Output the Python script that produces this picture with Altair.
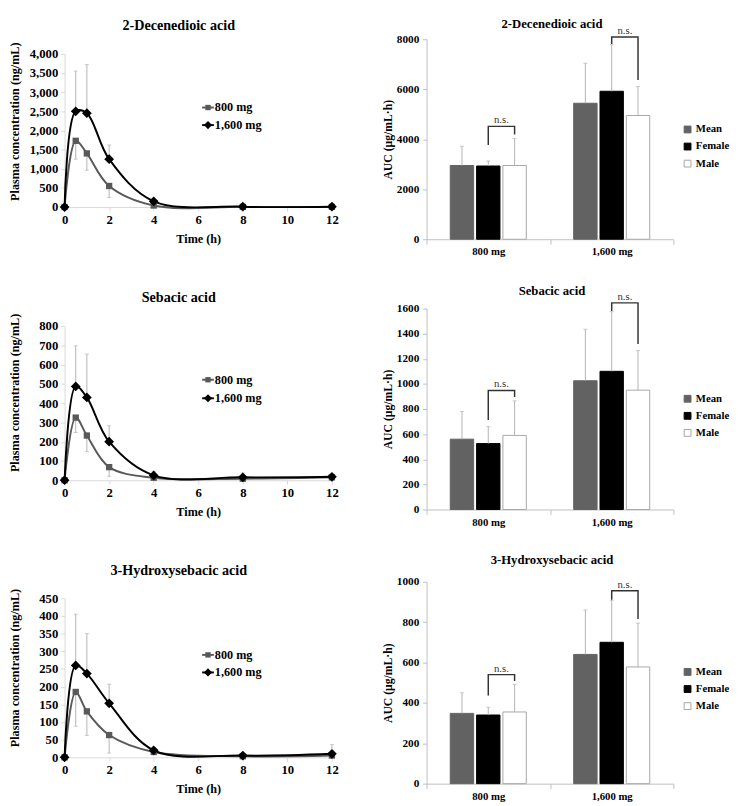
import altair as alt
import pandas as pd

FONT = "Liberation Serif"

# ---------------- plasma concentration time courses ----------------
times = [0, 0.5, 1, 2, 4, 8, 12]
doses = ["800 mg", "1,600 mg"]

dec_800 = [0, 1730, 1400, 550, 40, 5, 5]
dec_1600 = [0, 2500, 2450, 1250, 150, 10, 10]
dec_800_low = [None, 1250, 960, 250, None, None, None]
dec_1600_high = [None, 3550, 3720, 1620, None, None, None]

seb_800 = [0, 325, 232, 68, 13, 8, 15]
seb_1600 = [0, 487, 430, 200, 25, 15, 18]
seb_800_low = [None, 248, 148, 20, None, None, None]
seb_1600_high = [None, 697, 655, 283, 45, 38, 30]

hyd_800 = [0, 185, 130, 63, 15, 3, 5]
hyd_1600 = [0, 260, 237, 153, 20, 5, 10]
hyd_800_low = [None, 88, 62, 12, None, None, None]
hyd_1600_high = [None, 405, 350, 207, 28, None, 36]

# ---------------- AUC bar charts ----------------
groups = ["800 mg", "1,600 mg"]
series = ["Mean", "Female", "Male"]

dec_auc = {"Mean": [2950, 5440], "Female": [2930, 5920], "Male": [2950, 4950]}
dec_auc_top = {"Mean": [3720, 7040], "Female": [3130, 7780], "Male": [4030, 6110]}
dec_brackets = {"800 mg": [3774, 4515, 4190], "1,600 mg": [7805, 8090, 6374]}

seb_auc = {"Mean": [560, 1025], "Female": [525, 1100], "Male": [590, 950]}
seb_auc_top = {"Mean": [780, 1435], "Female": [660, 1575], "Male": [865, 1265]}
seb_brackets = {"800 mg": [713, 948, 896], "1,600 mg": [1580, 1645, 1318]}

hyd_auc = {"Mean": [348, 640], "Female": [340, 700], "Male": [355, 578]}
hyd_auc_top = {"Mean": [450, 860], "Female": [378, 908], "Male": [492, 795]}
hyd_brackets = {"800 mg": [436, 540, 508], "1,600 mg": [911, 955, 815]}

LIGHT = "#d9d9d9"
ERR = "#b3b3b3"
AX = "#bfbfbf"


def pk_panel(title, c800, c1600, lo800, hi1600, ymax, ystep, h, top, title_y, leg_y, toff):
    rows = []
    for i, t in enumerate(times):
        rows.append({"t": t, "dose": doses[0], "c": c800[i], "e": lo800[i]})
        rows.append({"t": t, "dose": doses[1], "c": c1600[i], "e": hi1600[i]})
    df = pd.DataFrame(rows)
    base = alt.Chart(df)
    xaxis = alt.Axis(values=list(range(0, 13, 2)), title="Time (h)", labelFlush=False, grid=False,
                     domainColor=LIGHT, tickColor=LIGHT, tickSize=4, labelPadding=3,
                     labelFontSize=13, titleFontSize=12.5, titlePadding=6)
    yaxis = alt.Axis(values=list(range(0, ymax + 1, ystep)), format=",d", grid=False,
                     title="Plasma concentration (ng/mL)", titleY=title_y,
                     domainColor=LIGHT, tickColor=LIGHT, tickSize=4, labelPadding=3,
                     labelFontSize=13, titleFontSize=12.5, titlePadding=8,
                     minExtent=36, maxExtent=36)
    xs = alt.Scale(domain=[0, 12], nice=False, zero=False)
    ys = alt.Scale(domain=[0, ymax], nice=False, range=[h + top, top])

    def X():
        return alt.X("t:Q", scale=xs, axis=xaxis)

    def Y(f):
        return alt.Y(f, type="quantitative", scale=ys, axis=yaxis)

    color = alt.Color("dose:N", scale=alt.Scale(domain=doses, range=["#595959", "#000000"]), legend=None)

    err = base.transform_filter("isValid(datum.e)").mark_rule(color=ERR, strokeWidth=1).encode(
        x=X(), y=Y("c"), y2="e:Q")
    caps = base.transform_filter("isValid(datum.e)").mark_tick(
        orient="horizontal", size=4, thickness=1, color=ERR).encode(x=X(), y=Y("e"))
    line = base.mark_line(interpolate="catmull-rom", strokeWidth=2).encode(x=X(), y=Y("c"), color=color)
    sq = base.transform_filter(alt.datum.dose == doses[0]).mark_point(
        shape="square", filled=True, opacity=1, size=42, color="#595959").encode(x=X(), y=Y("c"))
    dm = base.transform_filter(alt.datum.dose == doses[1]).mark_point(
        shape="diamond", filled=True, opacity=1, size=100, color="#000000").encode(x=X(), y=Y("c"))

    lg = alt.Chart(pd.DataFrame({"a": [0]}))
    y1, y2 = leg_y
    l1 = lg.mark_rule(color="#595959", strokeWidth=2).encode(x=alt.value(141), x2=alt.value(153), y=alt.value(y1))
    p1 = lg.mark_point(shape="square", filled=True, opacity=1, size=30, color="#595959").encode(
        x=alt.value(147), y=alt.value(y1))
    t1 = lg.mark_text(text=doses[0], align="left", baseline="middle", font=FONT, fontWeight="bold",
                      fontSize=12.5, color="black").encode(x=alt.value(154), y=alt.value(y1))
    l2 = lg.mark_rule(color="#000000", strokeWidth=2).encode(x=alt.value(141), x2=alt.value(153), y=alt.value(y2))
    p2 = lg.mark_point(shape="diamond", filled=True, opacity=1, size=70, color="#000000").encode(
        x=alt.value(147), y=alt.value(y2))
    t2 = lg.mark_text(text=doses[1], align="left", baseline="middle", font=FONT, fontWeight="bold",
                      fontSize=12.5, color="black").encode(x=alt.value(154), y=alt.value(y2))

    return alt.layer(line, err, caps, sq, dm, l1, p1, t1, l2, p2, t2).properties(
        width=274, height=h + top,
        title=alt.TitleParams(title, font=FONT, fontSize=14.5, fontWeight="bold", color="black",
                              offset=toff, dx=-20))


def auc_panel(title, vals, tops, brackets, ymax, ystep, h, tdy):
    rows = []
    for s in series:
        for gi, g in enumerate(groups):
            rows.append({"g": g, "s": s, "v": vals[s][gi], "e": tops[s][gi]})
    df = pd.DataFrame(rows)
    brows = []
    for g in groups:
        lb, top, rb = brackets[g]
        brows += [{"g": g, "s": "Female", "v": lb, "o": 0},
                  {"g": g, "s": "Female", "v": top, "o": 1},
                  {"g": g, "s": "Male", "v": top, "o": 2},
                  {"g": g, "s": "Male", "v": rb, "o": 3}]
    bdf = pd.DataFrame(brows)

    xaxis = alt.Axis(title=None, labelAngle=0, tickBand="extent", domainColor=AX, grid=False,
                     tickColor=AX, tickSize=5, labelPadding=2, labelFontSize=11)
    yaxis = alt.Axis(values=list(range(0, ymax + 1, ystep)), format="d", title="AUC (μg/mL·h)", grid=False,
                     domainColor=AX, tickColor=AX, tickSize=4, labelPadding=4,
                     labelFontSize=11.5, titleFontSize=12, titlePadding=2,
                     minExtent=31, maxExtent=31)
    xsc = alt.Scale(domain=groups, paddingInner=0, paddingOuter=0)
    xosc = alt.Scale(domain=series, paddingInner=0.111, paddingOuter=0.9)
    ysc = alt.Scale(domain=[0, ymax], nice=False)

    def X():
        return alt.X("g:N", sort=groups, scale=xsc, axis=xaxis)

    def XO():
        return alt.XOffset("s:N", sort=series, scale=xosc)

    def Y(f):
        return alt.Y(f, type="quantitative", scale=ysc, axis=yaxis)

    leg = alt.Legend(title=None, orient="none", legendX=262, legendY=87, symbolType="square",
                     symbolSize=49, labelFont=FONT, labelFontWeight="bold", labelFontSize=11,
                     labelColor="black", labelOffset=3, rowPadding=5.5, symbolStrokeWidth=1, padding=0)
    base = alt.Chart(df)
    bars = base.mark_bar(strokeWidth=1).encode(
        x=X(), xOffset=XO(), y=Y("v"),
        color=alt.Color("s:N", sort=series, scale=alt.Scale(domain=series, range=["#626262", "#000000", "#ffffff"]), legend=leg),
        stroke=alt.Stroke("s:N", sort=series, scale=alt.Scale(domain=series, range=["#626262", "#000000", "#a6a6a6"]), legend=leg),
    )
    err = base.mark_rule(color=ERR, strokeWidth=1).encode(x=X(), xOffset=XO(), y=Y("v"), y2="e:Q")
    caps = base.mark_tick(orient="horizontal", size=4, thickness=1, color=ERR).encode(
        x=X(), xOffset=XO(), y=Y("e"))
    br = alt.Chart(bdf).mark_line(color="#333333", strokeWidth=1.5).encode(
        x=X(), xOffset=XO(), y=Y("v"), detail="g:N", order="o:Q")
    ns = alt.Chart(bdf).transform_filter(alt.datum.o == 1).mark_text(
        text="n.s.", dx=13.5, dy=-1, baseline="bottom", font=FONT, fontSize=11, color="#333333").encode(
        x=X(), xOffset=XO(), y=Y("v"))
    return alt.layer(bars, err, caps, br, ns).properties(
        width=253, height=h,
        title=alt.TitleParams(title, font=FONT, fontSize=13, fontWeight="bold", color="black",
                              offset=0, dy=tdy, dx=2))


left = alt.vconcat(
    pk_panel("2-Decenedioic acid", dec_800, dec_1600, dec_800_low, dec_1600_high, 4000, 500, 157, 15, 84, (70, 88), 6),
    pk_panel("Sebacic acid", seb_800, seb_1600, seb_800_low, seb_1600_high, 800, 100, 158, 15, 83, (70, 89), 6),
    pk_panel("3-Hydroxysebacic acid", hyd_800, hyd_1600, hyd_800_low, hyd_1600_high, 450, 50, 163, 15, 86, (73, 91), 5),
    spacing=46,
).resolve_scale(color="independent")

right = alt.vconcat(
    auc_panel("2-Decenedioic acid", dec_auc, dec_auc_top, dec_brackets, 8000, 2000, 205, 5.5),
    auc_panel("Sebacic acid", seb_auc, seb_auc_top, seb_brackets, 1600, 200, 206, 6.5),
    auc_panel("3-Hydroxysebacic acid", hyd_auc, hyd_auc_top, hyd_brackets, 1000, 200, 207, -9),
    spacing=28,
).resolve_scale(color="independent", stroke="independent")

chart = alt.concat(left, right, columns=2, align="none", spacing=44).resolve_scale(
    color="independent", stroke="independent"
).properties(
    padding={"left": 1, "top": 0, "right": 0, "bottom": 0}, background="white"
).configure_view(stroke=None).configure_axis(
    labelFont=FONT, titleFont=FONT, labelFontWeight="bold", titleFontWeight="bold",
    labelColor="black", titleColor="black", grid=False
).configure_legend(labelFont=FONT, labelFontWeight="bold", labelColor="black")

chart.save("out.html", embed_options={"renderer": "svg", "actions": False})
